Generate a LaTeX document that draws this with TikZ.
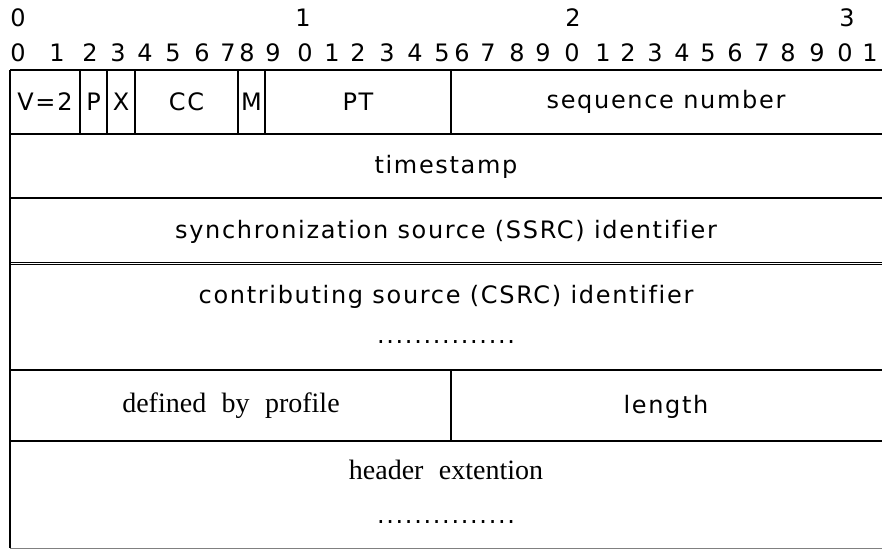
\documentclass[tikz,border=0pt]{standalone}
\usepackage{fontspec}
\newfontfamily\gulim[LetterSpace=7,Ligatures=NoCommon]{DejaVu Sans}
\newfontfamily\batang[WordSpace=2.2]{Liberation Serif}
\usetikzlibrary{calc}
\tikzset{field/.style={font=\gulim\fontsize{24}{28}\selectfont,inner sep=0pt},
	fieldrm/.style={font=\batang\fontsize{28}{32}\selectfont,inner sep=0pt},
	bitnum/.style={font=\gulim\fontsize{24}{28}\selectfont,inner sep=0pt},
	rule/.style={line width=1.6pt},
}

\begin{document}
\begin{tikzpicture}[x=1pt,y=-1pt]
	\useasboundingbox (0,0) rectangle (882,549);
	
	% bit numbers
	\foreach \x/\d in {18/0,303/1,573/2,847/3}
		\node[bitnum] (t\d) at (\x,18) {\d};
	\foreach \x [count=\i from 0] in {18,57,90,118,145,173,202,228,247,273,305,332,358,387,415,442,462,488,517,543,572,603,628,655,682,708,735,762,788,817,845,870}{
		\pgfmathtruncatemacro{\d}{mod(\i,10)}
		\node[bitnum] (b\i) at (\x,53) {\d};
	}
	
	% rows
	\draw[rule] (10,70) -- (882,70);
	\draw[rule] (10,134) -- (882,134);
	\draw[rule] (10,198) -- (882,198);
	\draw[double,double distance=1.2pt,line width=0.9pt] (10,263.5) -- (882,263.5);
	\draw[rule] (10,370) -- (882,370);
	\draw[rule] (10,441) -- (882,441);
	\draw[gray,line width=1pt] (10,548) -- (882,548);
	\draw[rule] (10,70) -- (10,548);
	
	% first word
	\foreach \x in {80,107,135,238,265,451}
		\draw[rule] (\x,70) -- (\x,134);
	\draw[rule] (451,370) -- (451,441);
	
	\node[field] (ver) at (45,102) {V=2};
	\node[field] (pad) at (93.5,102) {P};
	\node[field] (ext) at (121,102) {X};
	\node[field] (cc) at (186.5,102) {CC};
	\node[field] (mrk) at (251.5,102) {M};
	\node[field] (pt) at (358,102) {PT};
	\node[field] (seq) at (666,102) {sequence number};
	
	\node[field] (ts) at (446,167) {timestamp};
	\node[field] (ssrc) at (446,232) {synchronization source (SSRC) identifier};
	\node[field] (csrc) at (446,297) {contributing source (CSRC) identifier};
	\node[field,anchor=base] (cdots) at (446,343) {...............};
	
	\node[fieldrm] (prof) at (231,406) {defined by profile};
	\node[field] (len) at (666,407) {length};
	
	\node[fieldrm] (hext) at (446,470) {header extention};
	\node[field,anchor=base] (hdots) at (446,523) {...............};
\end{tikzpicture}
\end{document}
